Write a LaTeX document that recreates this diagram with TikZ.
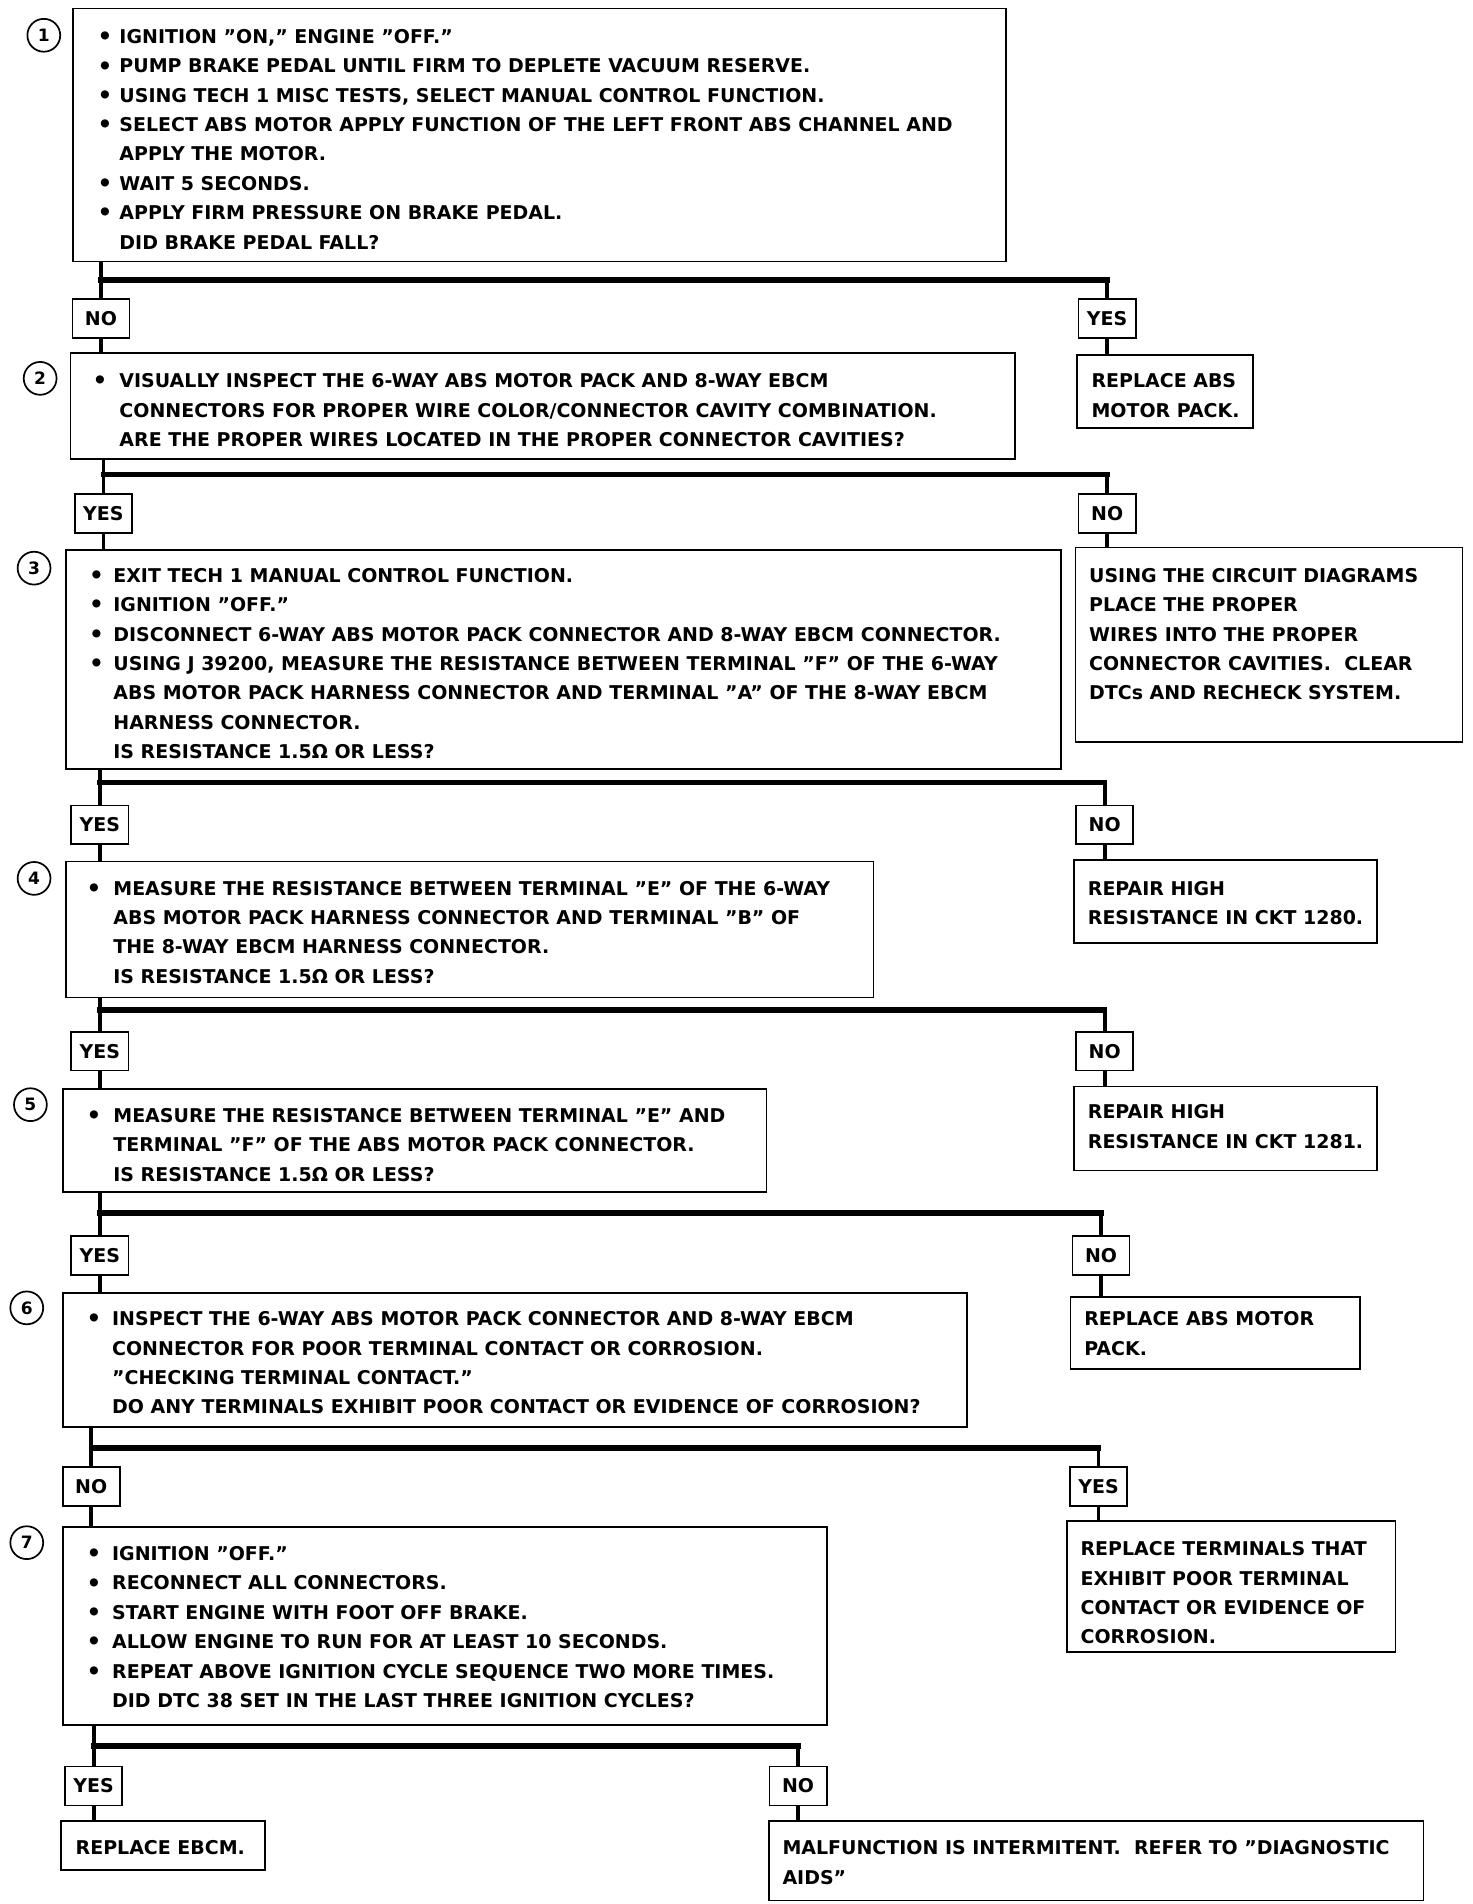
\documentclass[tikz,border=0pt]{standalone}
\usepackage{fontspec}
\setmainfont{DejaVu Sans}
\usetikzlibrary{calc}
\newcommand\tfont{\fontsize{15.6}{24.15}\selectfont\bfseries}
\newcommand\bl[1]{\makebox[#1pt][l]{\raisebox{-1pt}{\fontsize{19}{19}\selectfont\textbullet}}}
\newcommand\ind[1]{\hspace*{#1pt}}
\newcommand\fs{\rule{0pt}{12.5pt}}
\tikzset{
  box/.style={draw, line width=1.4pt, anchor=north west, inner sep=0pt, outer sep=0pt},
  txt/.style={anchor=north west, inner sep=0pt, align=left, font=\tfont},
  lab/.style={draw, line width=1.4pt, minimum width=47pt, minimum height=32pt, inner sep=0pt, outer sep=0pt, font=\tfont},
  num/.style={draw, circle, line width=1.4pt, minimum size=27pt, inner sep=0pt, font=\fontsize{14}{14}\selectfont\bfseries},
  vl/.style={line width=3pt},
  hl/.style={line width=4.5pt, line cap=rect},
}
\begin{document}
\begin{tikzpicture}[x=1pt,y=-1pt]
\fill[white] (0,0) rectangle (1210,1565);
\useasboundingbox (0,0) rectangle (1210,1565);

% ---------- step 1 ----------
\node[num] (c1) at (36,29) {1};
\node[box, minimum width=767pt, minimum height=208pt] (b1) at (60,7) {};
\node[txt] (t1) at (80,23) {\fs\bl{18}IGNITION "ON," ENGINE "OFF."\\
\bl{18}PUMP BRAKE PEDAL UNTIL FIRM TO DEPLETE VACUUM RESERVE.\\
\bl{18}USING TECH 1 MISC TESTS, SELECT MANUAL CONTROL FUNCTION.\\
\bl{18}SELECT ABS MOTOR APPLY FUNCTION OF THE LEFT FRONT ABS CHANNEL AND\\
\ind{18}APPLY THE MOTOR.\\
\bl{18}WAIT 5 SECONDS.\\
\bl{18}APPLY FIRM PRESSURE ON BRAKE PEDAL.\\
\ind{18}DID BRAKE PEDAL FALL?};
\node[lab] (n1) at (83,262) {NO};
\node[lab] (y1) at (910,262) {YES};
\node[box, minimum width=145pt, minimum height=60pt] (r1) at (885,292) {};
\node[txt] (rt1) at (897,306) {\fs REPLACE ABS\\MOTOR PACK.};
\coordinate (j1) at (83,230);

% ---------- step 2 ----------
\node[num] (c2) at (33,311) {2};
\node[box, minimum width=776pt, minimum height=87pt] (b2) at (58,290) {};
\node[txt] (t2) at (76,306) {\fs\bl{22}VISUALLY INSPECT THE 6-WAY ABS MOTOR PACK AND 8-WAY EBCM\\
\ind{22}CONNECTORS FOR PROPER WIRE COLOR/CONNECTOR CAVITY COMBINATION.\\
\ind{22}ARE THE PROPER WIRES LOCATED IN THE PROPER CONNECTOR CAVITIES?};
\node[lab] (y2) at (85,422) {YES};
\node[lab] (n2) at (910,422) {NO};
\node[box, minimum width=318pt, minimum height=160pt] (r2) at (884,450) {};
\node[txt] (rt2) at (895,466) {\fs USING THE CIRCUIT DIAGRAMS\\PLACE THE PROPER\\WIRES INTO THE PROPER\\CONNECTOR CAVITIES.\ \ CLEAR\\DTCs AND RECHECK SYSTEM.};
\coordinate (j2) at (85,390);

% ---------- step 3 ----------
\node[num] (c3) at (28,467) {3};
\node[box, minimum width=818pt, minimum height=180pt] (b3) at (54,452) {};
\node[txt] (t3) at (73,466) {\fs\bl{20}EXIT TECH 1 MANUAL CONTROL FUNCTION.\\
\bl{20}IGNITION "OFF."\\
\bl{20}DISCONNECT 6-WAY ABS MOTOR PACK CONNECTOR AND 8-WAY EBCM CONNECTOR.\\
\bl{20}USING J 39200, MEASURE THE RESISTANCE BETWEEN TERMINAL "F" OF THE 6-WAY\\
\ind{20}ABS MOTOR PACK HARNESS CONNECTOR AND TERMINAL "A" OF THE 8-WAY EBCM\\
\ind{20}HARNESS CONNECTOR.\\
\ind{20}IS RESISTANCE 1.5Ω OR LESS?};
\node[lab] (y3) at (82,678) {YES};
\node[lab] (n3) at (908,678) {NO};
\node[box, minimum width=249pt, minimum height=68pt] (r3) at (883,707) {};
\node[txt] (rt3) at (894,723) {\fs REPAIR HIGH\\RESISTANCE IN CKT 1280.};
\coordinate (j3) at (82,643);

% ---------- step 4 ----------
\node[num] (c4) at (28,722) {4};
\node[box, minimum width=664pt, minimum height=112pt] (b4) at (54,708) {};
\node[txt] (t4) at (71,723) {\fs\bl{22}MEASURE THE RESISTANCE BETWEEN TERMINAL "E" OF THE 6-WAY\\
\ind{22}ABS MOTOR PACK HARNESS CONNECTOR AND TERMINAL "B" OF\\
\ind{22}THE 8-WAY EBCM HARNESS CONNECTOR.\\
\ind{22}IS RESISTANCE 1.5Ω OR LESS?};
\node[lab] (y4) at (82,864) {YES};
\node[lab] (n4) at (908,864) {NO};
\node[box, minimum width=249pt, minimum height=69pt] (r4) at (883,893) {};
\node[txt] (rt4) at (894,907) {\fs REPAIR HIGH\\RESISTANCE IN CKT 1281.};
\coordinate (j4) at (82,830);

% ---------- step 5 ----------
\node[num] (c5) at (25,908) {5};
\node[box, minimum width=578pt, minimum height=85pt] (b5) at (52,895) {};
\node[txt] (t5) at (71,910) {\fs\bl{22}MEASURE THE RESISTANCE BETWEEN TERMINAL "E" AND\\
\ind{22}TERMINAL "F" OF THE ABS MOTOR PACK CONNECTOR.\\
\ind{22}IS RESISTANCE 1.5Ω OR LESS?};
\node[lab] (y5) at (82,1032) {YES};
\node[lab] (n5) at (905,1032) {NO};
\node[box, minimum width=238pt, minimum height=59pt] (r5) at (880,1066) {};
\node[txt] (rt5) at (891,1077) {\fs REPLACE ABS MOTOR\\PACK.};
\coordinate (j5) at (82,997);

% ---------- step 6 ----------
\node[num] (c6) at (22,1075) {6};
\node[box, minimum width=743pt, minimum height=110pt] (b6) at (52,1063) {};
\node[txt] (t6) at (71,1077) {\fs\bl{21}INSPECT THE 6-WAY ABS MOTOR PACK CONNECTOR AND 8-WAY EBCM\\
\ind{21}CONNECTOR FOR POOR TERMINAL CONTACT OR CORROSION.\\
\ind{21}"CHECKING TERMINAL CONTACT."\\
\ind{21}DO ANY TERMINALS EXHIBIT POOR CONTACT OR EVIDENCE OF CORROSION?};
\node[lab] (n6) at (75,1222) {NO};
\node[lab] (y6) at (903,1222) {YES};
\node[box, minimum width=270pt, minimum height=108pt] (r6) at (877,1250) {};
\node[txt] (rt6) at (888,1266) {\fs REPLACE TERMINALS THAT\\EXHIBIT POOR TERMINAL\\CONTACT OR EVIDENCE OF\\CORROSION.};
\coordinate (j6) at (75,1190);

% ---------- step 7 ----------
\node[num] (c7) at (22,1268) {7};
\node[box, minimum width=628pt, minimum height=163pt] (b7) at (52,1255) {};
\node[txt] (t7) at (71,1270) {\fs\bl{21}IGNITION "OFF."\\
\bl{21}RECONNECT ALL CONNECTORS.\\
\bl{21}START ENGINE WITH FOOT OFF BRAKE.\\
\bl{21}ALLOW ENGINE TO RUN FOR AT LEAST 10 SECONDS.\\
\bl{21}REPEAT ABOVE IGNITION CYCLE SEQUENCE TWO MORE TIMES.\\
\ind{21}DID DTC 38 SET IN THE LAST THREE IGNITION CYCLES?};
\node[lab] (y7) at (77,1468) {YES};
\node[lab] (n7) at (656,1468) {NO};
\node[box, minimum width=168pt, minimum height=40pt] (r7) at (50,1497) {};
\node[txt] (rt7) at (62,1512) {\fs REPLACE EBCM.};
\node[box, minimum width=538pt, minimum height=65pt] (r8) at (632,1497) {};
\node[txt] (rt8) at (643,1512) {\fs MALFUNCTION IS INTERMITENT.\ \ REFER TO "DIAGNOSTIC\\AIDS"};
\coordinate (j7) at (77,1435);

% ---------- connectors ----------
\draw[vl] (b1.south -| n1) -- (n1.north);
\draw[hl] (j1) -- (j1 -| y1);
\draw[vl] (j1 -| y1) -- (y1.north);
\draw[vl] (n1.south) -- (n1.south |- b2.north);
\draw[vl] (y1.south) -- (y1.south |- r1.north);

\draw[vl] (b2.south -| y2) -- (y2.north);
\draw[hl] (j2) -- (j2 -| n2);
\draw[vl] (j2 -| n2) -- (n2.north);
\draw[vl] (y2.south) -- (y2.south |- b3.north);
\draw[vl] (n2.south) -- (n2.south |- r2.north);

\draw[vl] (b3.south -| y3) -- (y3.north);
\draw[hl] (j3) -- (j3 -| n3);
\draw[vl] (j3 -| n3) -- (n3.north);
\draw[vl] (y3.south) -- (y3.south |- b4.north);
\draw[vl] (n3.south) -- (n3.south |- r3.north);

\draw[vl] (b4.south -| y4) -- (y4.north);
\draw[hl] (j4) -- (j4 -| n4);
\draw[vl] (j4 -| n4) -- (n4.north);
\draw[vl] (y4.south) -- (y4.south |- b5.north);
\draw[vl] (n4.south) -- (n4.south |- r4.north);

\draw[vl] (b5.south -| y5) -- (y5.north);
\draw[hl] (j5) -- (j5 -| n5);
\draw[vl] (j5 -| n5) -- (n5.north);
\draw[vl] (y5.south) -- (y5.south |- b6.north);
\draw[vl] (n5.south) -- (n5.south |- r5.north);

\draw[vl] (b6.south -| n6) -- (n6.north);
\draw[hl] (j6) -- (j6 -| y6);
\draw[vl] (j6 -| y6) -- (y6.north);
\draw[vl] (n6.south) -- (n6.south |- b7.north);
\draw[vl] (y6.south) -- (y6.south |- r6.north);

\draw[vl] (b7.south -| y7) -- (y7.north);
\draw[hl] (j7) -- (j7 -| n7);
\draw[vl] (j7 -| n7) -- (n7.north);
\draw[vl] (y7.south) -- (y7.south |- r7.north);
\draw[vl] (n7.south) -- (n7.south |- r8.north);
\end{tikzpicture}
\end{document}
